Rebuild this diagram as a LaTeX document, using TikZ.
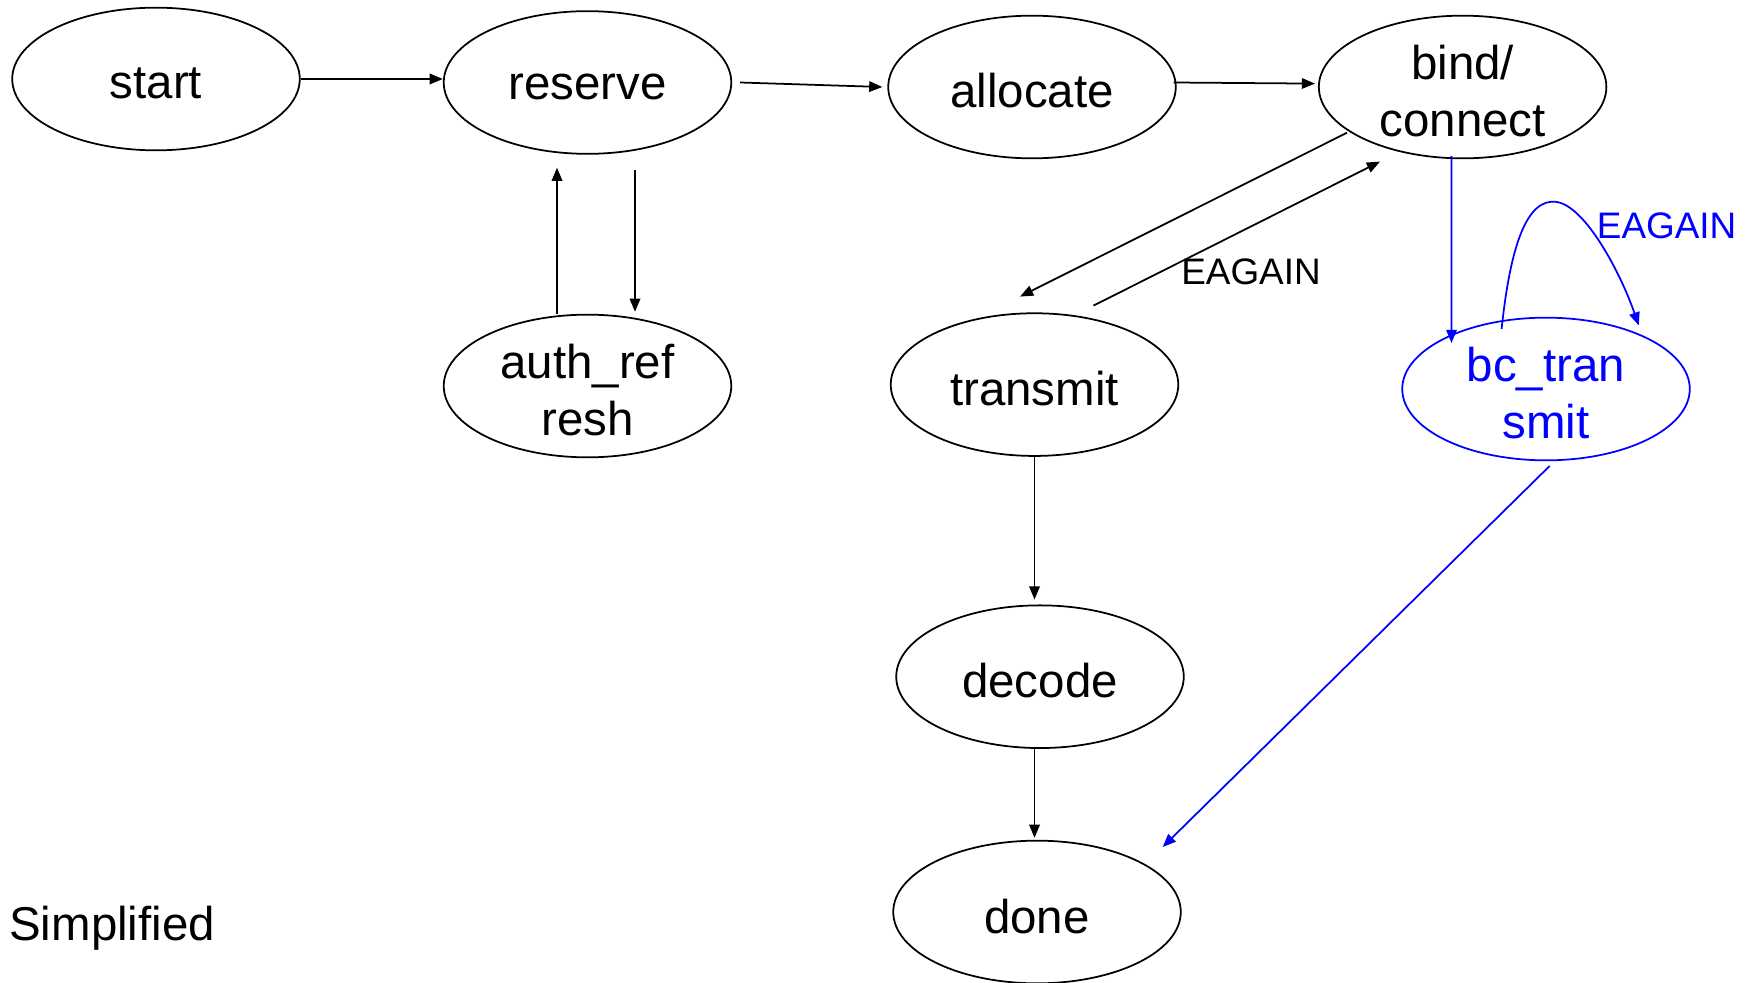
\documentclass[tikz,border=0pt]{standalone}
\usepackage{fontspec}
\setmainfont{Liberation Sans}
\usetikzlibrary{shapes.geometric,arrows.meta,calc}
\definecolor{linkblue}{RGB}{0,0,255}
% set a line a little below its natural place, keeping its reported size
\newcommand\txtdown[1]{\raisebox{-2.3pt}[\height][\depth]{#1}}
\tikzset{
  state/.style={ellipse,draw,line width=1pt,minimum width=5.752cm,minimum height=2.854cm,
    inner sep=0pt,align=center,font=\fontsize{27}{32.5}\selectfont},
  arr/.style={line width=1pt,-{Triangle[length=7.5pt,width=6pt]}},
  lbl/.style={font=\fontsize{21}{25}\selectfont,inner sep=0pt},
}
\begin{document}
\begin{tikzpicture}[x=0.02cm,y=-0.02cm]
\useasboundingbox (0,0) rectangle (1748,983);

% states
\node[state] (start)    at (156,79)     {\txtdown{start}};
\node[state] (reserve)  at (587.5,82.5) {\txtdown{reserve}};
\node[state] (allocate) at (1032,87)    {\txtdown{allocate}};
\node[state] (bind)     at (1462.6,87)  {\txtdown{bind/}\\\txtdown{connect}};
\node[state] (auth)     at (587.5,386)  {\txtdown{auth\_ref}\\\txtdown{resh}};
\node[state] (transmit) at (1034.5,384.6) {\txtdown{transmit}};
\node[state,draw=linkblue,text=linkblue] (bc) at (1546,389) {\txtdown{bc\_tran}\\\txtdown{smit}};
\node[state] (decode)   at (1040,676.7) {\txtdown{decode}};
\node[state] (done)     at (1037,912)   {\txtdown{done}};

\node[font=\fontsize{27}{32.5}\selectfont,anchor=west,inner sep=0pt] (note) at (9,928.5) {Simplified};

% main chain
\draw[arr] (start.east) -- (start.east -| reserve.west);
\draw[arr] ($(reserve.east)+(8,0)$) -- ($(allocate.west)+(-5,0)$);
\draw[arr] ($(allocate.east)+(-3,-4.5)$) -- ($(bind.west)+(-3,-3.4)$);

% reserve <-> auth_refresh
\draw[arr] ($(auth.north)+(-30.5,0)$) -- ($(reserve.south)+(-30.5,13)$);
\draw[arr] ($(reserve.south)+(47.5,15.5)$) -- ($(auth.north)+(47.5,-2)$);

% bind <-> transmit
\draw[arr] ($(bind)+(-115.6,45.7)$) -- ($(transmit)+(-14.5,-88)$);
\draw[arr] ($(transmit)+(59,-79)$) -- ($(bind)+(-82.6,74.6)$);
\node[lbl] (eagain) at (1251,272) {EAGAIN};

% transmit -> decode -> done
\draw[arr] (transmit.south) -- ($(transmit.south |- decode.north)+(0,-5)$);
\draw[arr] ($(decode.south)+(-5.5,-2)$) -- ($(decode.south |- done.north)+(-5.5,-2)$);

% broadcast branch
\draw[arr,linkblue] ($(bind)+(-11,69)$) -- ($(bc)+(-94.5,-46)$);
\draw[arr,linkblue] ($(bc)+(-44.4,-60)$)
  .. controls ($(bc)+(-36,-140)$) and ($(bc)+(-20,-192)$) .. ($(bc)+(11,-187)$)
  .. controls ($(bc)+(40,-182)$) and ($(bc)+(75,-115)$) .. ($(bc)+(92.7,-63.5)$);
\node[lbl,text=linkblue] (bceagain) at (1666.6,226) {EAGAIN};
\draw[arr,linkblue] ($(bc)+(3.6,77)$) -- ($(done)+(125.7,-65)$);
\end{tikzpicture}
\end{document}
